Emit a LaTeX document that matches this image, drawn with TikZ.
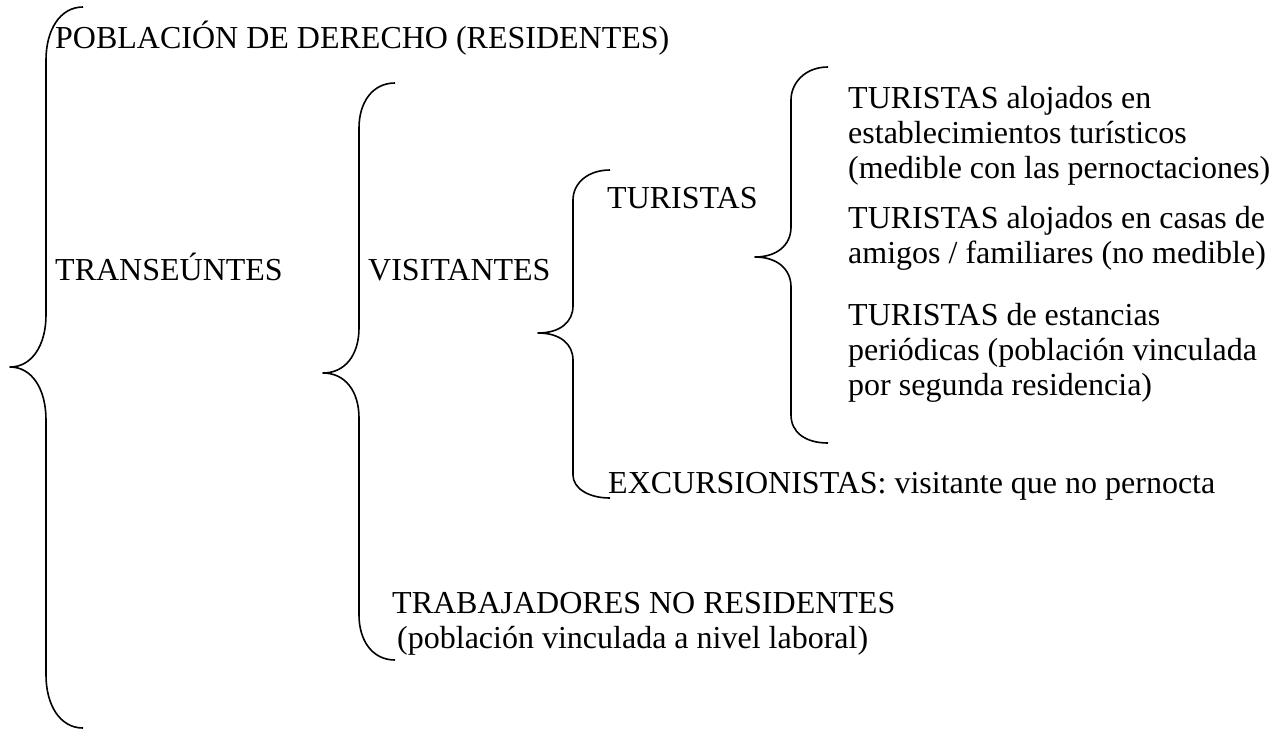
\documentclass[tikz,border=0pt]{standalone}
\usepackage{fontspec}
\setmainfont{Liberation Serif}
\begin{document}
\begin{tikzpicture}[x=1pt,y=-1pt,
  txt/.style={anchor=base west,inner sep=0pt,font=\fontsize{32}{35}\selectfont},
  brc/.style={line width=1.6pt,line join=round}]
\useasboundingbox (0,0) rectangle (1284,729);
% braces
\draw[brc] (83,7) .. controls (60,7) and (46,30) .. (46,60) -- (46,315)
  .. controls (46,345) and (32,367) .. (10,367)
  .. controls (32,367) and (46,389) .. (46,420) -- (46,675)
  .. controls (46,705) and (60,728) .. (83,728);
\draw[brc] (395,83) .. controls (372,83) and (359,103) .. (359,128) -- (359,328)
  .. controls (359,355) and (345,373) .. (323,373)
  .. controls (345,373) and (359,391) .. (359,418) -- (359,615)
  .. controls (359,640) and (372,660) .. (395,660);
\draw[brc] (610,170) .. controls (588,170) and (573,183) .. (573,200) -- (573,306)
  .. controls (573,322) and (560,333) .. (538,333)
  .. controls (560,333) and (573,344) .. (573,360) -- (573,475)
  .. controls (573,488) and (588,498) .. (610,498);
\draw[brc] (828,67) .. controls (805,67) and (791,83) .. (791,100) -- (791,227)
  .. controls (791,245) and (777,257) .. (755,257)
  .. controls (777,257) and (791,269) .. (791,287) -- (791,415)
  .. controls (791,432) and (805,443) .. (828,443);
% texts
\node[txt] (pob) at (55,48) {POBLACIÓN DE DERECHO (RESIDENTES)};
\node[txt] (tra) at (55,280) {TRANSEÚNTES};
\node[txt] (vis) at (368,280) {VISITANTES};
\node[txt] (tur) at (607,208) {TURISTAS};
\node[txt] (a1) at (848,108) {TURISTAS alojados en};
\node[txt] (a2) at (848,143) {establecimientos turísticos};
\node[txt] (a3) at (848,178) {(medible con las pernoctaciones)};
\node[txt] (b1) at (848,228) {TURISTAS alojados en casas de};
\node[txt] (b2) at (848,263) {amigos / familiares (no medible)};
\node[txt] (c1) at (848,325) {TURISTAS de estancias};
\node[txt] (c2) at (848,360) {periódicas (población vinculada};
\node[txt] (c3) at (848,395) {por segunda residencia)};
\node[txt] (exc) at (608,493) {EXCURSIONISTAS: visitante que no pernocta};
\node[txt] (tnr1) at (392,613) {TRABAJADORES NO RESIDENTES};
\node[txt] (tnr2) at (397,648) {(población vinculada a nivel laboral)};
\end{tikzpicture}
\end{document}
